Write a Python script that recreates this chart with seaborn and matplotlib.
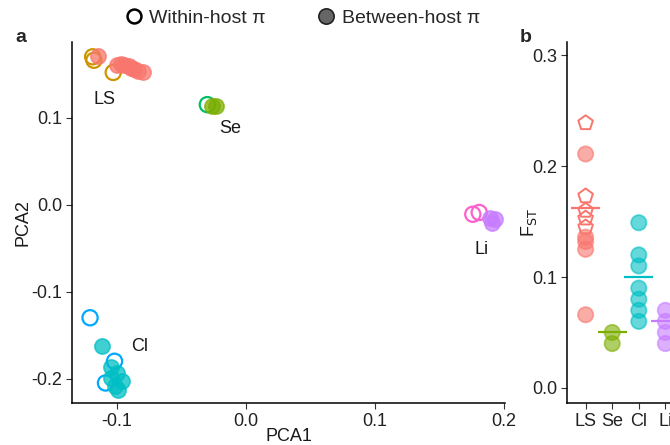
import numpy as np
import pandas as pd
import matplotlib
matplotlib.use("Agg")
import matplotlib.pyplot as plt
from matplotlib.lines import Line2D
import seaborn as sns

sns.set_theme(style="white")
plt.rcParams['font.family'] = ['Liberation Sans', 'DejaVu Sans']

# ---------------- data: panel a (PCA) ----------------
groups = ["LS", "Se", "Cl", "Li"]
col_between = {"LS": "#F8766D", "Se": "#7CAE00", "Cl": "#00BFC4", "Li": "#C77CFF"}
col_within = {"LS": "#CD9600", "Se": "#00BE67", "Cl": "#00A9FF", "Li": "#FF61CC"}

ls_within_x = [-0.119, -0.118, -0.103]
ls_within_y = [0.170, 0.166, 0.152]
ls_between_x = [-0.115, -0.100, -0.097, -0.095, -0.091, -0.089, -0.087, -0.084, -0.080]
ls_between_y = [0.171, 0.161, 0.162, 0.160, 0.159, 0.157, 0.156, 0.154, 0.152]

se_within_x = [-0.030]
se_within_y = [0.115]
se_between_x = [-0.026, -0.023]
se_between_y = [0.114, 0.113]

cl_within_x = [-0.121, -0.102, -0.109]
cl_within_y = [-0.130, -0.180, -0.205]
cl_between_x = [-0.112, -0.105, -0.100, -0.096, -0.102, -0.099, -0.105]
cl_between_y = [-0.163, -0.187, -0.193, -0.203, -0.209, -0.213, -0.199]

li_within_x = [0.176, 0.181]
li_within_y = [-0.011, -0.009]
li_between_x = [0.189, 0.191, 0.193]
li_between_y = [-0.015, -0.021, -0.017]

label_pos = {"LS": (-0.118, 0.121), "Se": (-0.021, 0.087), "Cl": (-0.089, -0.163), "Li": (0.177, -0.051)}

# ---------------- data: panel b (FST) ----------------
fst_within = {"LS": [0.239, 0.173, 0.160, 0.153, 0.145]}
fst_between = {
    "LS": [0.211, 0.136, 0.132, 0.125, 0.066],
    "Se": [0.050, 0.040],
    "Cl": [0.149, 0.120, 0.110, 0.090, 0.080, 0.070, 0.060],
    "Li": [0.070, 0.060, 0.050, 0.040],
}
fst_mean = {"LS": 0.162, "Se": 0.050, "Cl": 0.100, "Li": 0.060}

# ---------------- figure ----------------
W, H = 670, 445
fig = plt.figure(figsize=(W / 100, H / 100), dpi=100)

def ax_rect(l, r, t, b):
    return [l / W, 1 - b / H, (r - l) / W, (b - t) / H]

axa = fig.add_axes(ax_rect(72, 505, 42, 403))
axb = fig.add_axes(ax_rect(567, 684, 42, 403))

# build long tables
rows = []
pca = {
    "LS": (ls_within_x, ls_within_y, ls_between_x, ls_between_y),
    "Se": (se_within_x, se_within_y, se_between_x, se_between_y),
    "Cl": (cl_within_x, cl_within_y, cl_between_x, cl_between_y),
    "Li": (li_within_x, li_within_y, li_between_x, li_between_y),
}
for g, (wx, wy, bx, by) in pca.items():
    for x, y in zip(wx, wy):
        rows.append(dict(group=g, kind="within", PCA1=x, PCA2=y))
    for x, y in zip(bx, by):
        rows.append(dict(group=g, kind="between", PCA1=x, PCA2=y))
dfa = pd.DataFrame(rows)

for g in groups:
    d = dfa[(dfa.group == g) & (dfa.kind == "between")]
    sns.scatterplot(data=d, x="PCA1", y="PCA2", ax=axa, s=120, color=col_between[g],
                    alpha=0.75, edgecolor=col_between[g], linewidth=1.2, legend=False, zorder=3)
for g in groups:
    d = dfa[(dfa.group == g) & (dfa.kind == "within")]
    sns.scatterplot(data=d, x="PCA1", y="PCA2", ax=axa, s=120, facecolor="none",
                    edgecolor=col_within[g], linewidth=1.6, legend=False, zorder=2)

for g, (lx, ly) in label_pos.items():
    axa.text(lx, ly, g, fontsize=13, ha="left", va="center", color="#1a1a1a")

axa.set_xlim(-0.135, 0.201)
axa.set_ylim(-0.228, 0.187)
axa.set_xticks([-0.1, 0.0, 0.1, 0.2])
axa.set_xticklabels(["-0.1", "0.0", "0.1", "0.2"])
axa.set_yticks([-0.2, -0.1, 0.0, 0.1])
axa.set_yticklabels(["-0.2", "-0.1", "0.0", "0.1"])
axa.set_xlabel("PCA1", fontsize=13, color="#1a1a1a", labelpad=-1)
axa.set_ylabel("PCA2", fontsize=13, color="#1a1a1a", labelpad=0)

# panel b
rows_b = []
for g in groups:
    for v in fst_between.get(g, []):
        rows_b.append(dict(group=g, kind="between", FST=v))
    for v in fst_within.get(g, []):
        rows_b.append(dict(group=g, kind="within", FST=v))
dfb = pd.DataFrame(rows_b)

sns.stripplot(data=dfb[dfb.kind == "between"], x="group", y="FST", hue="group", order=groups,
              hue_order=groups, palette=col_between, jitter=False, size=11, alpha=0.6,
              linewidth=1.3, edgecolor="face", ax=axb, legend=False, zorder=3)
for coll in axb.collections:
    fc = coll.get_facecolors()
    coll.set_edgecolors(fc[:, :3])
n_before = len(axb.collections)
sns.stripplot(data=dfb[dfb.kind == "within"], x="group", y="FST", order=groups,
              jitter=False, size=11, marker="p", color="none", ax=axb, legend=False, zorder=2)
for coll in axb.collections[n_before:]:
    coll.set_facecolor("none")
    coll.set_edgecolor(col_between["LS"])
    coll.set_linewidth(1.4)

for i, g in enumerate(groups):
    axb.hlines(fst_mean[g], i - 0.55, i + 0.55, color=col_between[g], linewidth=1.6, zorder=4)

axb.set_xlim(-0.7, 3.7)
axb.set_ylim(-0.0136, 0.312)
axb.set_yticks([0.0, 0.1, 0.2, 0.3])
axb.set_yticklabels(["0.0", "0.1", "0.2", "0.3"])
axb.set_xlabel("")
axb.set_ylabel(r"F$_{\rm ST}$", fontsize=13, color="#1a1a1a", labelpad=-5)

for ax in (axa, axb):
    sns.despine(ax=ax)
    ax.spines["left"].set_color("black")
    ax.spines["bottom"].set_color("black")
    ax.spines["left"].set_linewidth(1.1)
    ax.spines["bottom"].set_linewidth(1.1)
    ax.tick_params(axis="both", which="both", length=4, width=0.8, color="#333333",
                   labelsize=13, labelcolor="#222222", bottom=True, left=True, pad=3)

fig.text(15 / W, 1 - 38 / H, "a", fontsize=14, fontweight="bold", va="center", ha="left")
fig.text(520 / W, 1 - 38 / H, "b", fontsize=14, fontweight="bold", va="center", ha="left")

handles = [
    Line2D([], [], marker="o", linestyle="", markerfacecolor="none", markeredgecolor="black",
           markersize=10, markeredgewidth=1.8, label="Within-host π"),
    Line2D([], [], marker="o", linestyle="", markerfacecolor="#666666", markeredgecolor="#222222",
           markersize=11, markeredgewidth=1.2, label="Between-host π"),
]
fig.legend(handles=handles, loc="center", bbox_to_anchor=(302 / W, 1 - 18 / H), ncol=2,
           frameon=False, fontsize=14, handletextpad=0.3, columnspacing=2.6, handlelength=1.0)

fig.savefig("out.png", dpi=100)
